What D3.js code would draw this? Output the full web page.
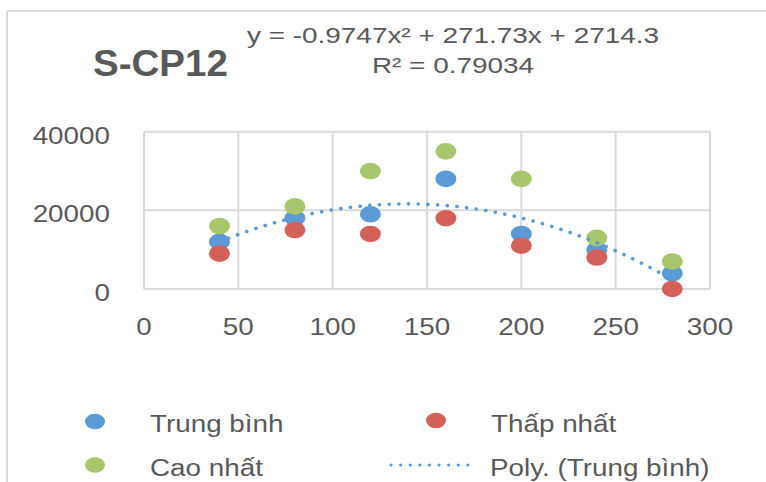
<!DOCTYPE html>
<html>
<head>
<meta charset="utf-8">
<script src="https://cdn.jsdelivr.net/npm/d3@7"></script>
<style>
  body { margin: 0; background: #fff; }
  svg { display: block; }
  text { font-family: "Liberation Sans", Arial, sans-serif; fill: #595959; }
</style>
</head>
<body>
<svg class="canvas" width="766" height="482"></svg>
<script>
"use strict";

// chart data
const title = "S-CP12";
const xValues = [40, 80, 120, 160, 200, 240, 280];
const trungBinh = [12000, 18000, 19000, 28000, 14000, 10000, 4000];
const thapNhat = [9000, 15000, 14000, 18000, 11000, 8000, 0];
const caoNhat = [16000, 21000, 30000, 35000, 28000, 13000, 7000];
const xTicks = [0, 50, 100, 150, 200, 250, 300];
const yTicks = [0, 20000, 40000];
const polyCoef = [-0.9747, 271.73, 2714.3]; // trend line of Trung bình
const equationLines = ["y = -0.9747x² + 271.73x + 2714.3", "R² = 0.79034"];

const seriesList = [
  { name: "Trung bình", values: trungBinh, color: "#5b9bd5" },
  { name: "Thấp nhất", values: thapNhat, color: "#d4605a" },
  { name: "Cao nhất", values: caoNhat, color: "#a8c66c" },
];

const SX = 1.21; // the original picture is stretched sideways
const gridColor = "#d9d9d9";

function render() {
  const svg = d3.select(".canvas");

  const xScale = d3.scaleLinear().domain([0, 300]).range([144, 710]);
  const yScale = d3.scaleLinear().domain([0, 40000]).range([289, 131.7]);

  // helper for stretched text
  function label(x, y, str, size, anchor, sx, weight) {
    return svg.append("text")
      .attr("transform", `translate(${x},${y}) scale(${sx || SX},1)`)
      .attr("text-anchor", anchor || "start")
      .attr("font-size", size)
      .attr("font-weight", weight || "normal")
      .text(str);
  }

  // outer frame (top and left edges only show)
  svg.append("line").attr("x1", 7).attr("x2", 766).attr("y1", 11).attr("y2", 11)
    .attr("stroke", gridColor).attr("stroke-width", 2);
  svg.append("line").attr("x1", 7).attr("x2", 7).attr("y1", 11).attr("y2", 482)
    .attr("stroke", gridColor).attr("stroke-width", 2);

  // title and equation
  label(93, 76, title, 36, "start", 1.07, "bold");
  equationLines.forEach((s, i) => label(453, 43 + i * 29.5, s, 22, "middle", 1.27));

  // grid lines
  svg.append("g").selectAll("line").data(xTicks).enter().append("line")
    .attr("x1", d => xScale(d)).attr("x2", d => xScale(d))
    .attr("y1", yScale(40000)).attr("y2", yScale(0))
    .attr("stroke", gridColor).attr("stroke-width", 2);
  svg.append("g").selectAll("line").data(yTicks).enter().append("line")
    .attr("x1", xScale(0)).attr("x2", xScale(300))
    .attr("y1", d => yScale(d)).attr("y2", d => yScale(d))
    .attr("stroke", gridColor).attr("stroke-width", 2);

  // tick labels
  xTicks.forEach(t => label(xScale(t), 335, t, 23, "middle"));
  yTicks.forEach(t => label(110, yScale(t) + 12, t, 23, "end"));

  // scatter points
  seriesList.forEach(s => {
    svg.append("g").selectAll("ellipse").data(s.values).enter().append("ellipse")
      .attr("cx", (d, i) => xScale(xValues[i]))
      .attr("cy", d => yScale(d))
      .attr("rx", 10.5)
      .attr("ry", 8.3)
      .attr("fill", s.color);
  });

  // polynomial trend line
  const trendX = d3.range(xValues[0], xValues[xValues.length - 1] + 0.5, 2);
  const poly = x => polyCoef[0] * x * x + polyCoef[1] * x + polyCoef[2];
  const line = d3.line().x(x => xScale(x)).y(x => yScale(poly(x)));
  svg.append("path")
    .attr("d", line(trendX))
    .attr("fill", "none")
    .attr("stroke", "#5b9bd5")
    .attr("stroke-width", 3.6)
    .attr("stroke-linecap", "round")
    .attr("stroke-dasharray", "0.1 9.6");

  // legend
  const legendItems = [
    { x: 95, y: 421.5, tx: 150, ty: 432, s: seriesList[0] },
    { x: 436, y: 420.5, tx: 491, ty: 432, s: seriesList[1] },
    { x: 95, y: 465, tx: 150, ty: 476, s: seriesList[2] },
  ];
  legendItems.forEach(it => {
    svg.append("ellipse").attr("cx", it.x).attr("cy", it.y)
      .attr("rx", 10).attr("ry", 7.8).attr("fill", it.s.color);
    label(it.tx, it.ty, it.s.name, 23, "start");
  });
  svg.append("line").attr("x1", 391).attr("x2", 477).attr("y1", 465).attr("y2", 465)
    .attr("stroke", "#5b9bd5").attr("stroke-width", 3.2)
    .attr("stroke-linecap", "round").attr("stroke-dasharray", "0.1 9.5");
  label(490, 476, "Poly. (Trung bình)", 23, "start");
}

window.onload = render;
</script>
</body>
</html>
